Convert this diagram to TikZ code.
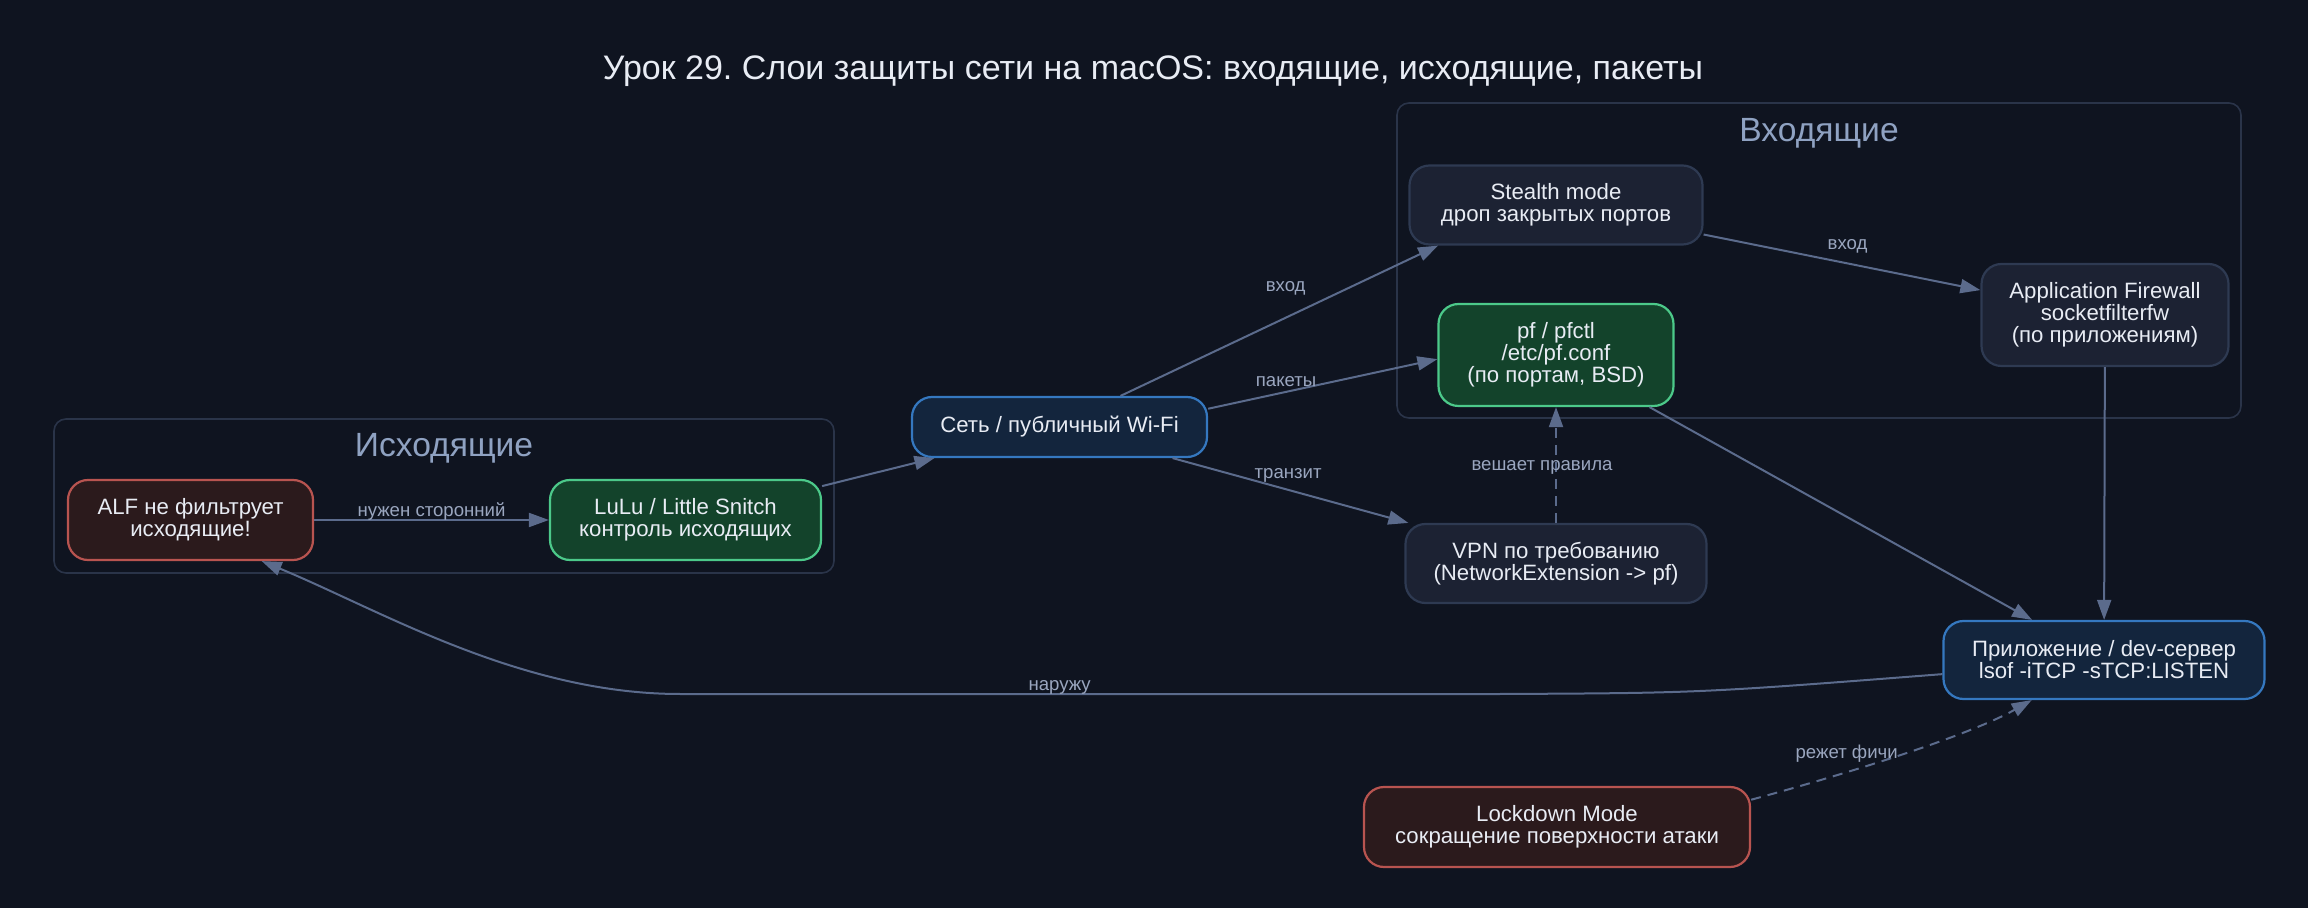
\documentclass[tikz,border=0pt]{standalone}
\usepackage{fontspec}
\setmainfont{Liberation Sans}
\usetikzlibrary{arrows.meta}
\frenchspacing

\definecolor{bgcol}{HTML}{0F1420}
\definecolor{nodetext}{HTML}{E8ECF4}
\definecolor{plainfill}{HTML}{1C2233}
\definecolor{plainline}{HTML}{2E3A52}
\definecolor{goodfill}{HTML}{13432B}
\definecolor{goodline}{HTML}{4CC98A}
\definecolor{warnfill}{HTML}{2B1A1C}
\definecolor{warnline}{HTML}{B85450}
\definecolor{corefill}{HTML}{13253D}
\definecolor{coreline}{HTML}{3578C0}
\definecolor{edgecol}{HTML}{5B6B8C}
\definecolor{labelcol}{HTML}{9AA6BF}
\definecolor{clusterline}{HTML}{2A3449}
\definecolor{clustertext}{HTML}{8FA2C2}

\tikzset{
  box/.style={draw, rounded corners=10pt, line width=1.1pt, align=center, inner sep=0pt,
    text=nodetext, font=\fontsize{11.1}{11}\selectfont},
  plainbox/.style={box, fill=plainfill, draw=plainline},
  goodbox/.style={box, fill=goodfill, draw=goodline},
  warnbox/.style={box, fill=warnfill, draw=warnline},
  corebox/.style={box, fill=corefill, draw=coreline},
  flow/.style={draw=edgecol, line width=1pt, -{Triangle[length=10pt,width=7pt]}},
  hint/.style={dash pattern=on 5pt off 3.5pt},
  elabel/.style={text=labelcol, font=\fontsize{9.3}{10}\selectfont, inner sep=1pt},
  cluster/.style={draw=clusterline, rounded corners=6pt, line width=0.8pt},
  clabel/.style={text=clustertext, font=\fontsize{16.8}{18}\selectfont, anchor=base},
}

\begin{document}
\begin{tikzpicture}[x=0.5pt, y=-0.5pt]
  \fill[bgcol] (0,0) rectangle (2308,908);
  \useasboundingbox (0,0) rectangle (2308,908);

  \node[text=nodetext, font=\fontsize{17}{20}\selectfont, anchor=base] (title) at (1153,80)
    {Урок 29. Слои защиты сети на macOS: входящие, исходящие, пакеты};

  \draw[cluster] (1397,103) rectangle (2241,418);
  \node[clabel] (inlabel) at (1819,142) {Входящие};
  \draw[cluster] (54,419) rectangle (834,573);
  \node[clabel] (outlabel) at (444,457) {Исходящие};

  \node[warnbox, minimum width=122.5pt, minimum height=40pt] (alf) at (190.5,520) {ALF не фильтрует\\исходящие!};
  \node[goodbox, minimum width=135.5pt, minimum height=40pt] (lulu) at (685.5,520) {LuLu / Little Snitch\\контроль исходящих};
  \node[corebox, minimum width=147.5pt, minimum height=30pt] (net) at (1059.5,427) {Сеть / публичный Wi-Fi};
  \node[plainbox, minimum width=146.5pt, minimum height=39.5pt] (stealth) at (1556,205) {Stealth mode\\дроп закрытых портов};
  \node[goodbox, minimum width=117.5pt, minimum height=51pt] (pf) at (1556,355) {pf / pfctl\\/etc/pf.conf\\(по портам, BSD)};
  \node[plainbox, minimum width=123.5pt, minimum height=51pt] (appfw) at (2105,315) {Application Firewall\\socketfilterfw\\(по приложениям)};
  \node[plainbox, minimum width=150.5pt, minimum height=39.5pt] (vpn) at (1556,563.5) {VPN по требованию\\(NetworkExtension -> pf)};
  \node[corebox, minimum width=160.5pt, minimum height=39pt] (app) at (2104,660) {Приложение / dev-сервер\\lsof -iTCP -sTCP:LISTEN};
  \node[warnbox, minimum width=193pt, minimum height=40pt] (lock) at (1557,827) {Lockdown Mode\\сокращение поверхности атаки};

  \coordinate (outstart) at (1500,694);
  \coordinate (outbend) at (680,694);

  \draw[flow] (alf) -- node[elabel, yshift=4pt] {нужен сторонний} (lulu);
  \draw[flow] (lulu) -- (net);
  \draw[flow] (net.27) -- node[elabel, pos=.52, yshift=14.5pt] {вход} (stealth.199);
  \draw[flow] (net.7) -- node[elabel, pos=.34, yshift=5pt] {пакеты} (pf.182);
  \draw[flow] (net) -- node[elabel, pos=.49, yshift=7pt] {транзит} (vpn);
  \draw[flow] (stealth) -- node[elabel, pos=.52, yshift=8.5pt] {вход} (appfw);
  \draw[flow] (appfw) -- (app);
  \draw[flow] (pf) -- (app);
  \draw[flow, hint] (vpn) -- node[elabel, pos=.48, xshift=-7pt] {вешает правила} (pf);
  \draw[flow] (app.185) .. controls (1700,693) .. (outstart)
    -- node[elabel, pos=.537, yshift=3.5pt] {наружу} (outbend)
    .. controls (520,694) and (380,610) .. (alf.330);
  \draw[flow, hint] (lock.8) .. controls (1850,773) and (1970,735) .. node[elabel, pos=.3, yshift=9.5pt, xshift=1.5pt] {режет фичи} (app.209);
\end{tikzpicture}
\end{document}
